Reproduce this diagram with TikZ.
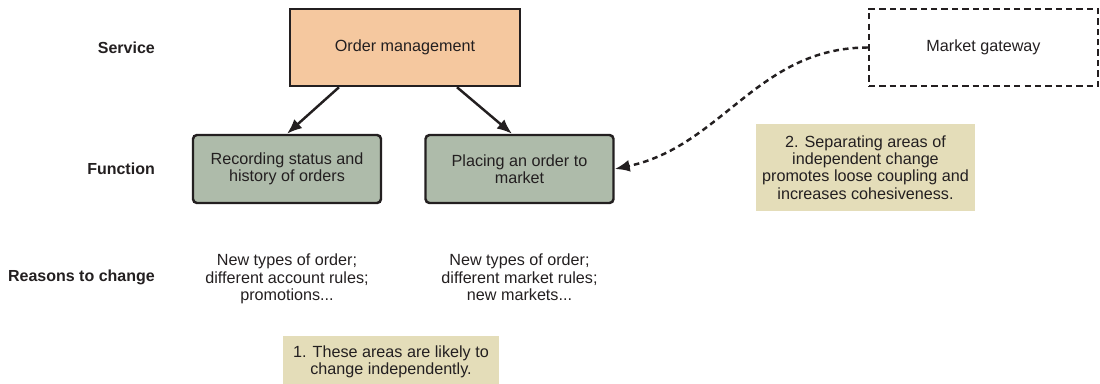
\documentclass[tikz,border=0pt]{standalone}
\usepackage{fontspec}
\setmainfont{Liberation Sans}
\usetikzlibrary{arrows.meta}
\definecolor{svcorange}{HTML}{F5C89F}
\definecolor{funcgreen}{HTML}{AEBBAA}
\definecolor{notetan}{HTML}{E4DDB9}
\definecolor{inkgray}{HTML}{231F20}

\begin{document}
\begin{tikzpicture}[
  font=\fontsize{9.2}{9.8}\selectfont,
  every node/.style={text=inkgray},
  layer/.style={font=\fontsize{9.1}{9.8}\selectfont\bfseries, anchor=east},
  svcbox/.style={draw=inkgray, line width=1.4pt, fill=svcorange, minimum width=4.6cm, minimum height=1.54cm},
  funcbox/.style={draw=inkgray, line width=1.4pt, rounded corners=0.08cm, fill=funcgreen, minimum width=3.76cm, minimum height=1.36cm, align=center},
  extbox/.style={draw=inkgray, line width=1.4pt, dash pattern=on 3.6pt off 2.3pt, minimum width=4.58cm, minimum height=1.54cm},
  notebox/.style={fill=notetan, align=center},
  reason/.style={align=center, anchor=north},
  link/.style={draw=inkgray, line width=1.4pt, -{Latex[length=0.3cm, width=0.24cm]}}
]
\useasboundingbox (0,0) rectangle (22,-7.68);

\node[layer] (svclabel) at (3.22,-0.96) {Service};
\node[layer] (funclabel) at (3.22,-3.38) {Function};
\node[layer] (reasonlabel) at (3.22,-5.54) {Reasons to change};

\node[svcbox] (ordermgmt) at (8.1,-0.95) {Order management};
\node[funcbox] (recording) at (5.74,-3.38) {Recording status and\\history of orders};
\node[funcbox] (placing) at (10.39,-3.38) {Placing an order to\\market};
\node[extbox] (gateway) at (19.67,-0.95) {Market gateway};

\node[reason] (reasonrec) at (5.74,-4.96) {New types of order;\\different account rules;\\promotions...};
\node[reason] (reasonplace) at (10.39,-4.96) {New types of order;\\different market rules;\\new markets...};

\node[notebox, minimum width=4.32cm, minimum height=1.04cm] (noteone) at (7.82,-7.24) {1. These areas are likely to\\change independently.};
\node[notebox, minimum width=4.3cm, minimum height=1.74cm] (notetwo) at (17.31,-3.35) {2. Separating areas of\\independent change\\promotes loose coupling and\\increases cohesiveness.};

\draw[link] ([xshift=-1.32cm]ordermgmt.south) -- (recording.north);
\draw[link] ([xshift=1.04cm]ordermgmt.south) -- ([xshift=-0.15cm]placing.north);
\draw[link, dash pattern=on 3.2pt off 2.3pt] (gateway.west) to[out=180, in=12] (placing.east);
\end{tikzpicture}
\end{document}
